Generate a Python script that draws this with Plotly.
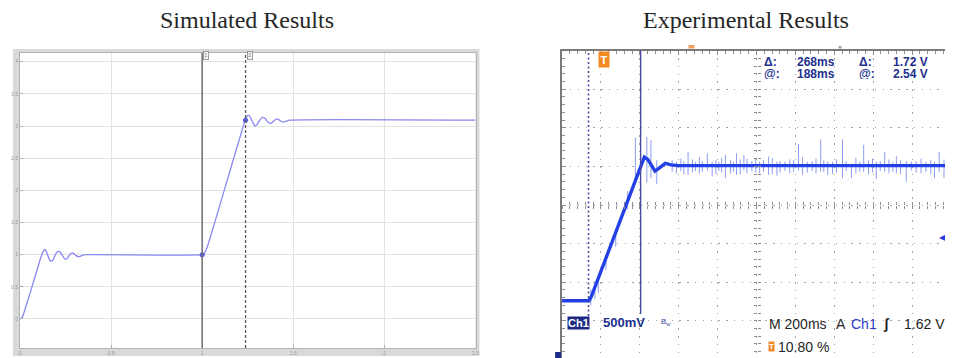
import plotly.graph_objects as go

# The page body has an 8px margin, so the figure is laid out in page pixels shifted by it.
PAGE_W, PAGE_H = 953, 358
OFF = 8
W, H = PAGE_W - OFF, PAGE_H - OFF


def px(x):
    return (x - OFF) / W


def py(y):
    return 1 - (y - OFF) / H


# ---------------- Simulated results (left) ----------------
sim_t = [0.000, 0.012, 0.030, 0.080, 0.115, 0.126, 0.134, 0.143, 0.155, 0.165, 0.174, 0.184,
         0.196, 0.206, 0.215, 0.224, 0.236, 0.246, 0.253, 0.262, 0.273, 0.284, 0.295, 0.308,
         0.320, 0.330, 0.342, 0.360, 1.000, 1.012, 1.030, 1.236, 1.246, 1.253, 1.262, 1.275,
         1.290, 1.303, 1.318, 1.331, 1.344, 1.358, 1.372, 1.386, 1.397, 1.408, 1.420, 1.434,
         1.446, 1.462, 1.480, 2.500]
sim_v = [0.00, 0.02, 0.17, 0.63, 0.96, 1.04, 1.08, 1.06, 0.97, 0.91, 0.90, 0.93,
         1.01, 1.045, 1.05, 1.03, 0.97, 0.935, 0.93, 0.95, 1.00, 1.025, 1.02, 0.985,
         0.97, 0.975, 0.99, 1.00, 1.00, 1.02, 1.14, 3.09, 3.15, 3.17, 3.15, 3.07,
         3.00, 3.03, 3.10, 3.135, 3.12, 3.07, 3.04, 3.06, 3.09, 3.11, 3.10, 3.07,
         3.06, 3.075, 3.09, 3.09]
sim_cursor_t = [1.000, 1.238]
sim_cursor_v = [1.00, 3.09]
sim_cursor_labels = ["1", "2"]
sim_xticks = [0, 0.5, 1, 1.5, 2, 2.5]
sim_xtick_text = ["0", "0.5", "1", "1.5", "2", "2.5"]
sim_yticks = [0, 0.5, 1, 1.5, 2, 2.5, 3, 3.5, 4]
sim_ytick_text = ["0", "0.5", "1", "1.5", "2", "2.5", "3", "3.5", "4"]

# ---------------- Experimental results (right, oscilloscope) ----------------
scope_t = [-216, -78, -66, 198, 207, 225, 245, 262, 285, 315, 345, 380, 1774]
scope_v = [0.80, 0.80, 0.85, 2.62, 2.66, 2.63, 2.54, 2.48, 2.52, 2.58, 2.56, 2.55, 2.55]
spike_t = [-68, -47, -30, 10, 60, 120, 161, 220, 241, 271, 432, 531, 556, 624, 681, 719,
           735, 846, 889, 1000, 1114, 1150, 1226, 1272, 1335, 1400, 1443, 1503, 1554,
           1580, 1699, 1723, 1748,
           350, 372, 395, 410, 455, 470, 490, 505, 575, 590, 605, 650, 665, 700, 760, 780,
           800, 820, 865, 905, 930, 955, 975, 1020, 1045, 1070, 1090, 1130, 1175, 1195,
           1245, 1295, 1315, 1360, 1380, 1420, 1465, 1485, 1525, 1605, 1630, 1655, 1680, 1765]
spike_hi = [0.95, 1.05, 1.08, 1.40, 1.72, 2.22, 2.91, 2.92, 2.88, 2.62, 2.73, 2.71, 2.60,
            2.69, 2.71, 2.69, 2.64, 2.67, 2.60, 2.83, 2.89, 2.60, 2.89, 2.57, 2.82, 2.60,
            2.73, 2.67, 2.61, 2.60, 2.60, 2.73, 2.63,
            2.62, 2.60, 2.64, 2.61, 2.63, 2.60, 2.66, 2.61, 2.62, 2.60, 2.65, 2.62, 2.60,
            2.63, 2.61, 2.64, 2.60, 2.62, 2.65, 2.61, 2.60, 2.63, 2.62, 2.66, 2.60, 2.61,
            2.64, 2.62, 2.60, 2.63, 2.61, 2.65, 2.60, 2.62, 2.64, 2.61, 2.63, 2.60, 2.62,
            2.61, 2.64, 2.60, 2.62, 2.63]
spike_lo = [0.74, 0.82, 0.90, 1.20, 1.50, 1.98, 2.36, 2.33, 2.39, 2.31, 2.43, 2.49, 2.41,
            2.39, 2.43, 2.49, 2.45, 2.43, 2.42, 2.49, 2.47, 2.43, 2.39, 2.39, 2.47, 2.38,
            2.47, 2.45, 2.34, 2.49, 2.39, 2.47, 2.39,
            2.47, 2.45, 2.48, 2.44, 2.46, 2.48, 2.45, 2.47, 2.44, 2.48, 2.46, 2.45, 2.47,
            2.44, 2.48, 2.46, 2.45, 2.47, 2.44, 2.46, 2.48, 2.45, 2.47, 2.43, 2.46, 2.48,
            2.45, 2.47, 2.44, 2.46, 2.48, 2.45, 2.47, 2.44, 2.46, 2.48, 2.45, 2.47, 2.44,
            2.46, 2.45, 2.47, 2.44, 2.46]

cursor_delta_ms = 268
cursor_at_ms = 188
cursor_delta_v = 1.72
cursor_at_v = 2.54
ms_per_div = 200
v_per_div = 0.5
center_v = 2.04
trig_pct = 10.80
trig_level = 1.62

# scope geometry (page pixels)
G_LEFT, G_TOP, DIV_X, DIV_Y, CENTER_Y = 564, 50.5, 39.1, 38.6, 205
x_left = -trig_pct / 100 * 10 * ms_per_div
x_right = x_left + (PAGE_W - G_LEFT) / DIV_X * ms_per_div
v_top = center_v + (CENTER_Y - G_TOP) / DIV_Y * v_per_div
v_bot = center_v - (PAGE_H - CENTER_Y) / DIV_Y * v_per_div

fig = go.Figure()

# left traces
fig.add_trace(go.Scatter(x=sim_t, y=sim_v, mode="lines", xaxis="x", yaxis="y",
                         line=dict(color="#8888f0", width=1.3, shape="spline", smoothing=0.5),
                         hoverinfo="skip", showlegend=False))
fig.add_trace(go.Scatter(x=sim_cursor_t, y=sim_cursor_v, mode="markers", xaxis="x", yaxis="y",
                         marker=dict(size=5, color="#5a5ae8"), hoverinfo="skip",
                         showlegend=False))

# right traces
sx, sy = [], []
for t, hi, lo in zip(spike_t, spike_hi, spike_lo):
    sx += [t, t, None]
    sy += [lo, hi, None]
fig.add_trace(go.Scatter(x=sx, y=sy, mode="lines", xaxis="x2", yaxis="y2",
                         line=dict(color="#8c9cf2", width=1), hoverinfo="skip",
                         showlegend=False))
fig.add_trace(go.Scatter(x=scope_t, y=scope_v, mode="lines", xaxis="x2", yaxis="y2",
                         line=dict(color="#2340e6", width=3.4), hoverinfo="skip",
                         showlegend=False))
# dummy traces for centre-line tick axes
for k in (3, 4):
    fig.add_trace(go.Scatter(x=[None], y=[None], xaxis=f"x{k}", yaxis=f"y{k}",
                             hoverinfo="skip", showlegend=False))

GRID_C = "#a2a2a2"
TICK_C = "#8c8c8c"
xdom2 = [px(G_LEFT), 1.0]
ydom2 = [0.0, py(G_TOP)]
cx_pos = xdom2[0] + (xdom2[1] - xdom2[0]) * (5 * ms_per_div) / (x_right - x_left)
cy_pos = ydom2[0] + (ydom2[1] - ydom2[0]) * (center_v - v_bot) / (v_top - v_bot)

common_free_x = dict(overlaying="x2", anchor="free", position=cy_pos, range=[x_left, x_right],
                     tick0=x_left, dtick=ms_per_div / 5, ticklen=3, tickcolor=TICK_C,
                     showgrid=False, showticklabels=False, showline=False, zeroline=False)
common_free_y = dict(overlaying="y2", anchor="free", position=cx_pos, range=[v_bot, v_top],
                     tick0=center_v, dtick=v_per_div / 5, ticklen=3, tickcolor=TICK_C,
                     showgrid=False, showticklabels=False, showline=False, zeroline=False)

fig.update_layout(
    width=W, height=H, margin=dict(l=0, r=0, t=0, b=0),
    paper_bgcolor="white", plot_bgcolor="white", showlegend=False,
    xaxis=dict(domain=[px(19), px(477)], range=[0, 2.5], anchor="y",
               tickvals=sim_xticks, ticktext=sim_xtick_text,
               showgrid=True, gridcolor="#e2e2e2", gridwidth=1,
               ticks="inside", ticklen=3, tickcolor="#b0b0b0",
               tickfont=dict(size=5, color="#9a9a9a", family="Liberation Sans"),
               showline=True, linecolor="#b2b2b2", linewidth=1, mirror=True, zeroline=False),
    yaxis=dict(domain=[py(348), py(53)], range=[-0.451, 4.135], anchor="x",
               tickvals=sim_yticks, ticktext=sim_ytick_text,
               showgrid=True, gridcolor="#e2e2e2", gridwidth=1,
               ticks="inside", ticklen=3, tickcolor="#b0b0b0",
               tickfont=dict(size=5, color="#9a9a9a", family="Liberation Sans"),
               showline=True, linecolor="#b2b2b2", linewidth=1, mirror=True, zeroline=False),
    xaxis2=dict(domain=xdom2, range=[x_left, x_right], anchor="y2", side="top",
                tick0=x_left, dtick=ms_per_div, showgrid=True, gridcolor=GRID_C,
                griddash="1.4px,6.32px", gridwidth=1.4,
                ticks="inside", ticklen=4, tickcolor=TICK_C,
                minor=dict(ticks="inside", ticklen=3, tick0=x_left, dtick=ms_per_div / 5,
                           tickcolor=TICK_C, showgrid=False),
                showticklabels=False, showline=True, linecolor="#7a7a7a", linewidth=2,
                zeroline=False),
    yaxis2=dict(domain=ydom2, range=[v_bot, v_top], anchor="x2", side="left",
                tick0=center_v, dtick=v_per_div, showgrid=True, gridcolor=GRID_C,
                griddash="1.4px,6.42px", gridwidth=1.4,
                ticks="inside", ticklen=4, tickcolor=TICK_C,
                minor=dict(ticks="inside", ticklen=3, tick0=center_v, dtick=v_per_div / 5,
                           tickcolor=TICK_C, showgrid=False),
                showticklabels=False, showline=True, linecolor="#7a7a7a", linewidth=2,
                zeroline=False),
    xaxis3=dict(**common_free_x, ticks="outside", side="bottom"),
    xaxis4=dict(**common_free_x, ticks="inside", side="bottom"),
    yaxis3=dict(**common_free_y, ticks="outside", side="left"),
    yaxis4=dict(**common_free_y, ticks="inside", side="left"),
)

shapes = [
    # grey frame of the simulation scope, with the white plotting area on top of it
    dict(type="rect", xref="paper", yref="paper", x0=px(12), x1=px(481), y0=py(356), y1=py(49),
         fillcolor="#d9d9d9", line=dict(width=0), layer="below"),
    dict(type="rect", xref="paper", yref="paper", x0=px(19), x1=px(477), y0=py(348), y1=py(53),
         fillcolor="white", line=dict(width=0), layer="below"),
    # simulation cursors
    dict(type="line", xref="x", yref="y domain", x0=sim_cursor_t[0], x1=sim_cursor_t[0],
         y0=0, y1=1, line=dict(color="#6e6e6e", width=1.5)),
    dict(type="line", xref="x", yref="y domain", x0=sim_cursor_t[1], x1=sim_cursor_t[1],
         y0=0, y1=1, line=dict(color="#5a5a5a", width=1.3, dash="3px,2px")),
    # scope cursors
    dict(type="line", xref="x2", yref="paper", x0=cursor_at_ms - cursor_delta_ms,
         x1=cursor_at_ms - cursor_delta_ms, y0=py(316), y1=py(G_TOP),
         line=dict(color="#4a4aa2", width=1.6, dash="2px,2.5px")),
    dict(type="line", xref="x2", yref="paper", x0=cursor_at_ms, x1=cursor_at_ms,
         y0=py(314), y1=py(G_TOP), line=dict(color="#4848a0", width=1.4)),
    # ground marker (bottom-left)
    dict(type="rect", xref="paper", yref="paper", x0=px(557), x1=px(563), y0=py(358), y1=py(352),
         fillcolor="#1f2d8a", line=dict(width=0)),
    # horizontal position markers above graticule
    dict(type="rect", xref="paper", yref="paper", x0=px(691), x1=px(697), y0=py(48.5), y1=py(45),
         fillcolor="#f0a060", line=dict(width=0)),
    dict(type="rect", xref="paper", yref="paper", x0=px(842), x1=px(845), y0=py(48.5), y1=py(46),
         fillcolor="#a0a0a0", line=dict(width=0)),
]

NAVY = "#22308e"
DARK = "#262626"
SANS = "Liberation Sans"
ann = []


def txt(x, y, s, color, size, bold=False, xanchor="left", family=SANS, **kw):
    if bold:
        s = f"<b>{s}</b>"
    ann.append(dict(xref="paper", yref="paper", x=px(x), y=py(y), text=s, showarrow=False,
                    xanchor=xanchor, yanchor="middle",
                    font=dict(family=family, size=size, color=color), **kw))


# titles
txt(247, 20, "Simulated Results", "#262626", 24, xanchor="center", family="Liberation Serif")
txt(749, 20, "Experimental Results", "#262626", 24, xanchor="center", family="Liberation Serif")

# simulation cursor label boxes
for ct, lab in zip(sim_cursor_t, sim_cursor_labels):
    ann.append(dict(xref="x", yref="paper", x=ct, y=py(56), text=lab, showarrow=False,
                    xanchor="left", yanchor="middle", xshift=1,
                    font=dict(family=SANS, size=5, color="#777"),
                    bgcolor="#f2f2f2", bordercolor="#8a8a8a", borderwidth=0.8, borderpad=0.5))

# cursor readouts
RO = dict(height=11)
txt(765, 62, "Δ:", NAVY, 12, bold=True, **RO)
txt(798, 62, f"{cursor_delta_ms}ms", NAVY, 12, bold=True, **RO)
txt(861, 62, "Δ:", NAVY, 12, bold=True, **RO)
txt(895, 62, f"{cursor_delta_v:.2f} V", NAVY, 12, bold=True, **RO)
txt(765, 73.5, "@:", NAVY, 12, bold=True, **RO)
txt(798, 73.5, f"{cursor_at_ms}ms", NAVY, 12, bold=True, **RO)
txt(861, 73.5, "@:", NAVY, 12, bold=True, **RO)
txt(895, 73.5, f"{cursor_at_v:.2f} V", NAVY, 12, bold=True, **RO)

# channel box
ann.append(dict(xref="paper", yref="paper", x=px(580.5), y=py(322.5), text="<b>Ch1</b>",
                showarrow=False, xanchor="center", yanchor="middle",
                font=dict(family=SANS, size=11, color="white"),
                bgcolor="#1c2a86", borderpad=0))
txt(603, 322.5, f"{int(v_per_div * 1000)}mV", NAVY, 13, bold=True)
txt(661, 322, "B<sub>w</sub>", "#3a4aa8", 8)

# timebase / trigger line
txt(770, 323.5, f"M {ms_per_div}ms", DARK, 14)
txt(837, 323.5, "A", DARK, 14)
txt(852, 323.5, "Ch1", "#2c3cc8", 14)
txt(885, 323.5, "ʃ", DARK, 14, bold=True)
txt(951, 323.5, f"{trig_level:.2f} V", DARK, 14, xanchor="right")
ann.append(dict(xref="paper", yref="paper", x=px(771), y=py(346.5), text="<b>T</b>",
                showarrow=False, xanchor="left", yanchor="middle",
                font=dict(family=SANS, size=8, color="white"), bgcolor="#f08a28", borderpad=0))
txt(779, 346.5, f"{trig_pct:.2f} %", DARK, 14)

# trigger position marker (t = 0)
ann.append(dict(xref="x2", yref="paper", x=0, y=py(59.5), text="<b>T</b>", showarrow=False,
                xanchor="center", yanchor="middle",
                font=dict(family=SANS, size=11, color="white"),
                bgcolor="#f28a22", borderpad=1.5))
# trigger level marker (right edge)
ann.append(dict(xref="paper", yref="y2", x=px(952), y=trig_level, text="◀", showarrow=False,
                xanchor="right", yanchor="middle",
                font=dict(family="DejaVu Sans", size=8, color="#2340e6")))

fig.update_layout(shapes=shapes, annotations=ann)
fig.write_html("out.html")
